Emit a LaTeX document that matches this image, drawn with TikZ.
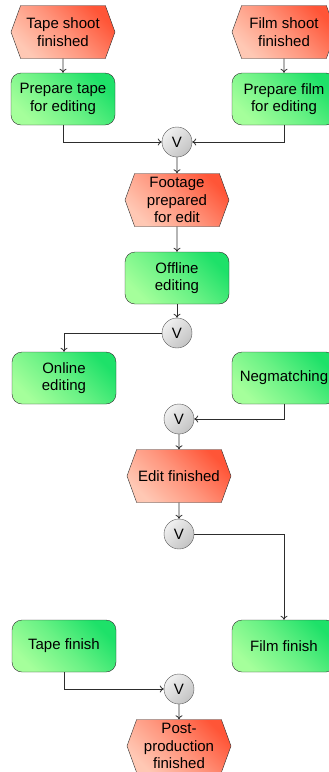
\documentclass[tikz,border=0pt]{standalone}
\usepackage{fontspec}
\setmainfont{Liberation Sans}
\usetikzlibrary{shapes.symbols,arrows.meta}

\definecolor{eventlight}{RGB}{255,200,180}
\definecolor{eventdark}{RGB}{255,85,55}
\definecolor{funclight}{RGB}{165,255,155}
\definecolor{funcdark}{RGB}{30,225,105}
\definecolor{circlelight}{RGB}{240,240,240}
\definecolor{circledark}{RGB}{195,195,195}
\definecolor{linegray}{RGB}{45,45,45}

\tikzset{
  label font/.style={font=\fontsize{15}{17.5}\selectfont},
  event/.style={signal, signal to=west and east, signal pointer angle=140,
    draw=linegray, minimum width=104pt, minimum height=53pt, inner sep=0pt,
    align=center, label font, bottom color=eventlight, top color=eventdark,
    middle color=eventdark!45!eventlight, shading angle=-45},
  func/.style={rectangle, rounded corners=10pt, draw=linegray,
    minimum width=104pt, minimum height=52pt, inner sep=0pt, align=center,
    label font, bottom color=funclight, top color=funcdark,
    middle color=funcdark!45!funclight, shading angle=-45},
  xor/.style={circle, draw=linegray!80, minimum size=30pt, inner sep=0pt,
    label font, top color=circlelight, bottom color=circledark,
    shading angle=45},
  flow/.style={draw=linegray, line width=0.8pt, -{To[length=4pt,width=7pt]}}
}

\begin{document}
\begin{tikzpicture}[x=1pt,y=-1pt]
			\useasboundingbox (0,0) rectangle (329,772);

			\node[event] (tapeshoot) at (63,32) {Tape shoot\\finished};
			\node[event] (filmshoot) at (284,32) {Film shoot\\finished};
			\node[func] (preptape) at (63,99) {Prepare tape\\for editing};
			\node[func] (prepfilm) at (284,99) {Prepare film\\for editing};
			\node[xor] (v1) at (177,142) {V};
			\node[event] (footage) at (177,200) {Footage\\prepared\\for edit};
			\node[func] (offline) at (177,278) {Offline\\editing};
			\node[xor] (v2) at (177,333) {V};
			\node[func] (online) at (64,378) {Online\\editing};
			\node[func] (negmatch) at (284,378) {Negmatching};
			\node[xor] (v3) at (179,419) {V};
			\node[event] (editdone) at (179,476) {Edit finished};
			\node[xor] (v4) at (179,534) {V};
			\node[func] (tapefinish) at (64,646) {Tape finish};
			\node[func] (filmfinish) at (284,646) {Film finish};
			\node[xor] (v5) at (179,689) {V};
			\node[event] (postdone) at (179,746) {Post-\\production\\finished};

			\draw[flow] (tapeshoot) -- (preptape);
			\draw[flow] (filmshoot) -- (prepfilm);
			\draw[flow] (preptape) |- (v1);
			\draw[flow] (prepfilm) |- (v1);
			\draw[flow] (v1) -- (footage);
			\draw[flow] (footage) -- (offline);
			\draw[flow] (offline) -- (v2);
			\draw[flow] (v2) -| (online);
			\draw[flow] (negmatch) |- (v3);
			\draw[flow] (v3) -- (editdone);
			\draw[flow] (editdone) -- (v4);
			\draw[flow] (v4) -| (filmfinish);
			\draw[flow] (tapefinish) |- (v5);
			\draw[flow] (v5) -- (postdone);
		\end{tikzpicture}
\end{document}
